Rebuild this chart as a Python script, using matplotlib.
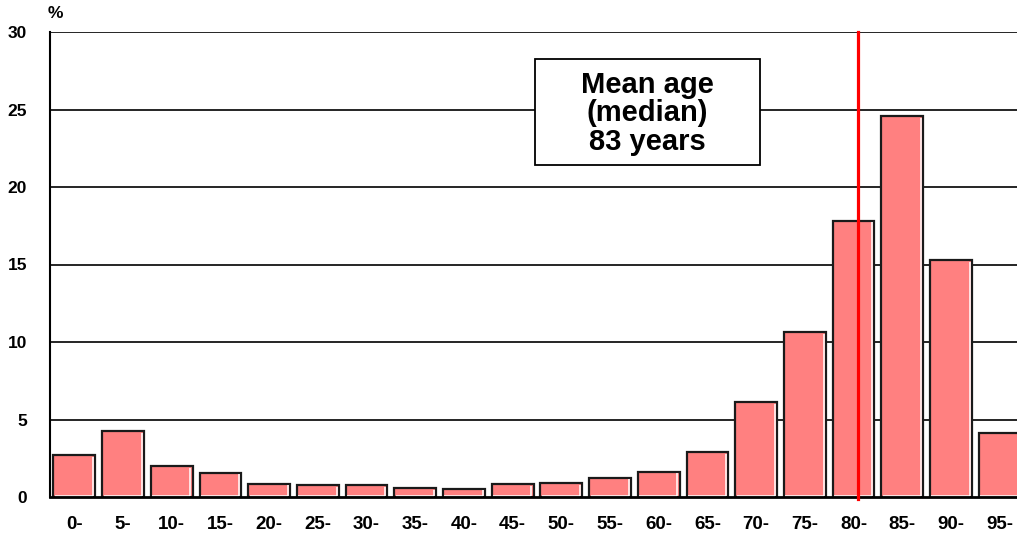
import matplotlib
matplotlib.use("Agg")
import matplotlib.pyplot as plt
from matplotlib.patches import Rectangle

plt.rcParams['font.family'] = ['Liberation Sans', 'DejaVu Sans']

categories = ['0-', '5-', '10-', '15-', '20-', '25-', '30-', '35-', '40-', '45-',
              '50-', '55-', '60-', '65-', '70-', '75-', '80-', '85-', '90-', '95-']
values = [2.69, 4.24, 1.98, 1.57, 0.86, 0.77, 0.77, 0.58, 0.52, 0.84,
          0.90, 1.23, 1.62, 2.90, 6.11, 10.62, 17.82, 24.58, 15.28, 4.16]
yticks = [0, 5, 10, 15, 20, 25, 30]
median_age = 83
bin_width = 5
annotation = "Mean age\n(median)\n83 years"

W, H = 1017, 538
fig = plt.figure(figsize=(W / 100, H / 100), dpi=100)
ax = fig.add_axes([50 / W, 41 / H, 974 / W, 465 / H])

x = list(range(len(categories)))
bw = 0.86
bars = ax.bar(x, values, width=bw, color='#FF8080', edgecolor='#1a1a1a',
              linewidth=1.6, zorder=3)
# inner white highlight (right and bottom)
for b in bars:
    x0, w, h = b.get_x(), b.get_width(), b.get_height()
    ax.plot([x0 + w - 0.045, x0 + w - 0.045], [0.08, h - 0.1], color='white',
            lw=1.1, zorder=4, solid_capstyle='butt')
    ax.plot([x0 + 0.03, x0 + w - 0.045], [0.08, 0.08], color='white',
            lw=1.1, zorder=4, solid_capstyle='butt')

ax.set_xlim(-0.5, len(categories) - 0.5)
ax.set_ylim(0, 30)
ax.set_yticks(yticks)
ax.set_yticklabels([str(t) for t in yticks], fontsize=12.5, fontweight='bold')
ax.set_xticks(x)
ax.set_xticklabels(categories, fontsize=13.5, fontweight='bold')
ax.tick_params(axis='y', length=0, pad=16.5)
ax.tick_params(axis='x', length=0, pad=14)

for t in yticks[1:]:
    ax.axhline(t, color='black', lw=1.2, zorder=1)

for s in ['top', 'right']:
    ax.spines[s].set_visible(False)
ax.spines['left'].set_linewidth(1.5)
ax.spines['bottom'].set_linewidth(2.0)
ax.spines['bottom'].set_zorder(5)

# median line
mx = (median_age - bin_width / 2) / bin_width
ax.plot([mx, mx], [-0.15, 30], color='#FF0000', lw=2.3, zorder=6, clip_on=False)

# annotation box
ax.add_patch(Rectangle((9.46, 21.41), 14.08 - 9.46, 28.24 - 21.41,
                       facecolor='white', edgecolor='black', lw=1.3, zorder=7))
ax.text((9.46 + 14.08) / 2, 24.75, annotation, ha='center', va='center',
        fontsize=21, fontweight='bold', linespacing=1.02, zorder=8)

fig.text(55 / W, 1 - 13 / H, '%', ha='center', va='center', fontsize=12.5,
         fontweight='bold')

fig.savefig('out.png', dpi=100)
